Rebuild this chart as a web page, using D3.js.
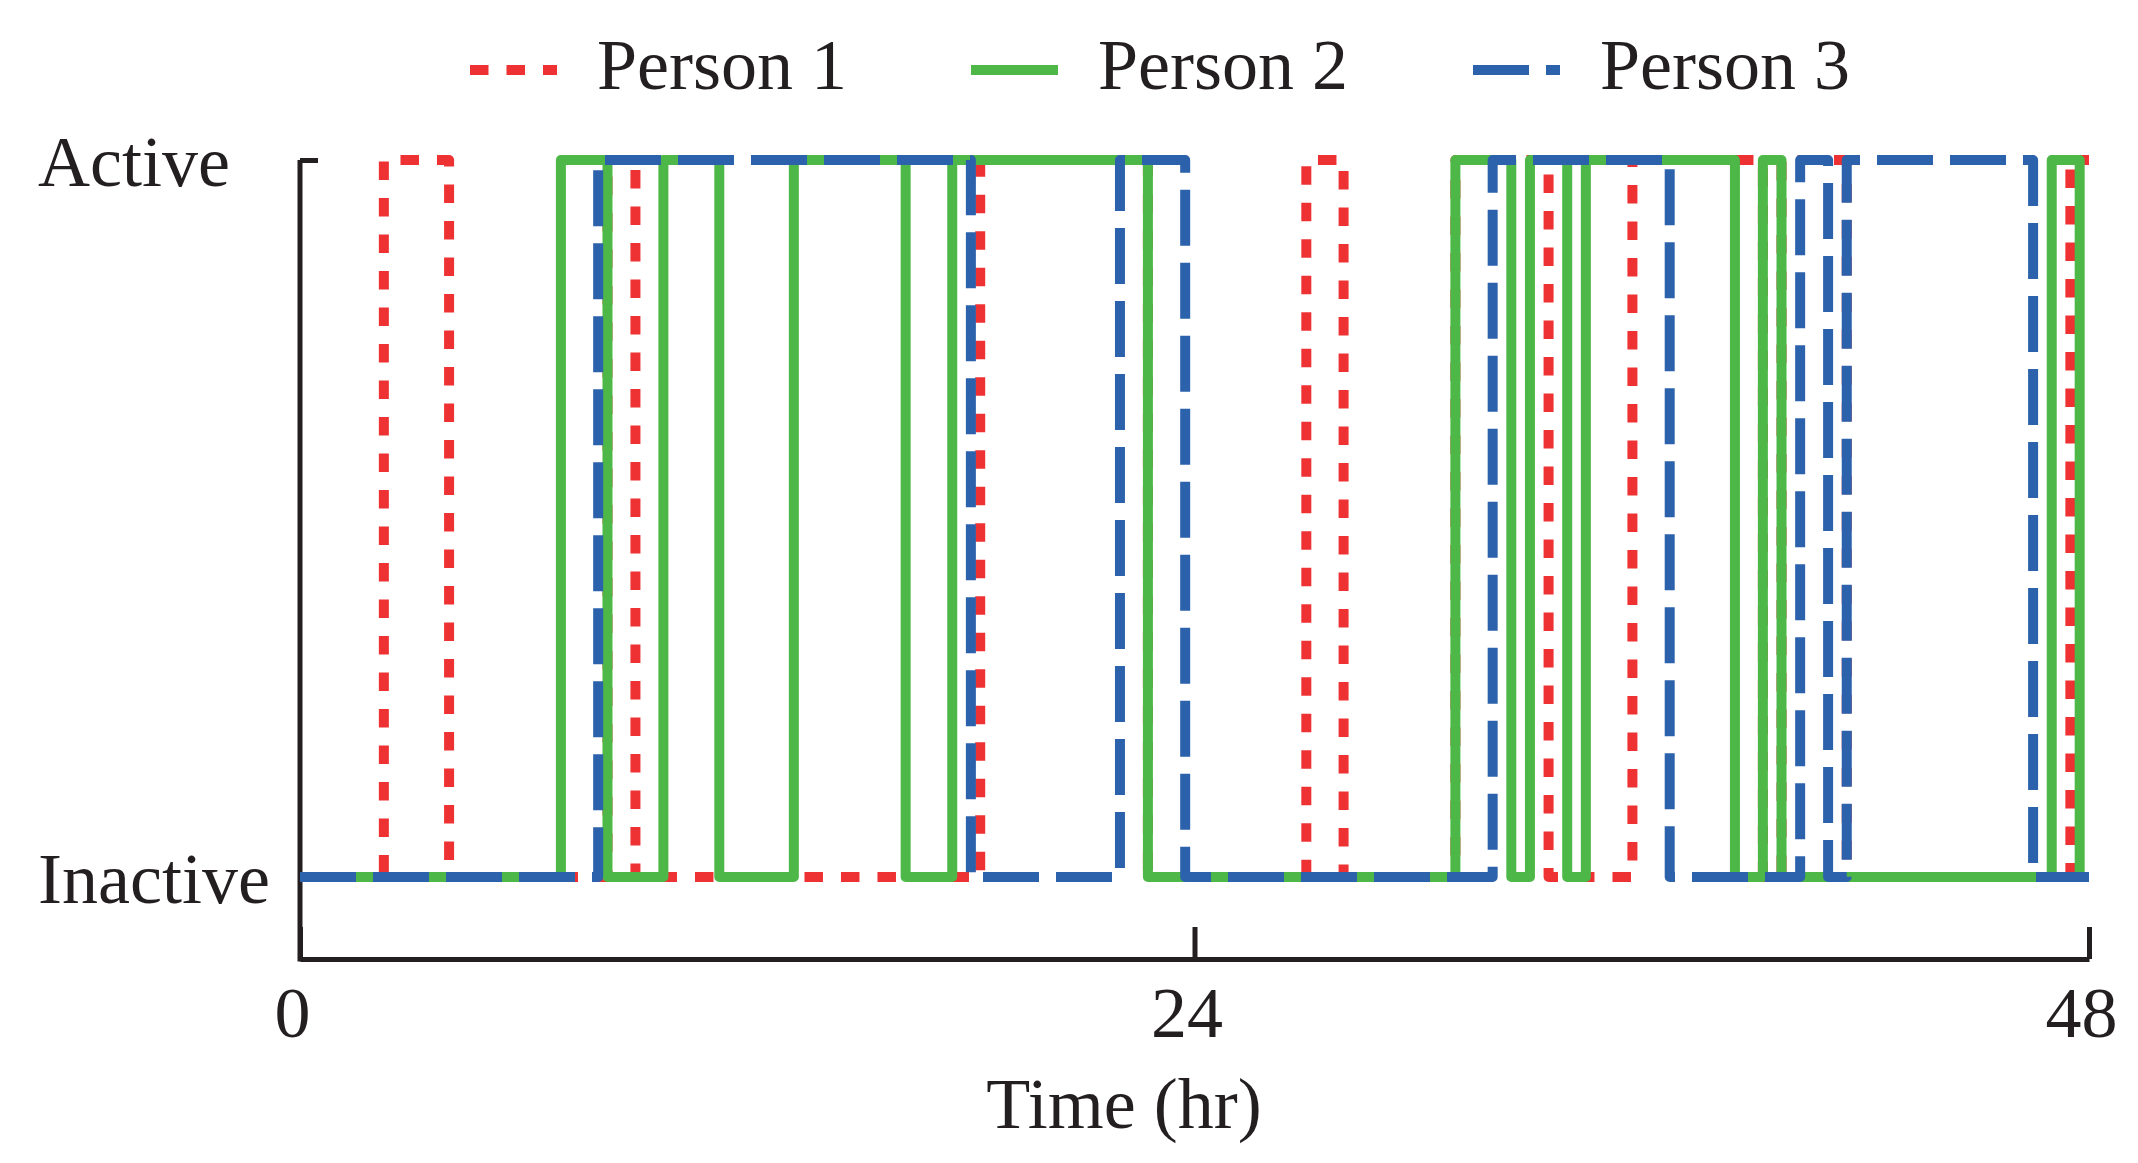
<!DOCTYPE html>
<html><head><meta charset="utf-8">
<script src="https://cdn.jsdelivr.net/npm/d3@7"></script>
<style>
body{margin:0;background:#fff}
svg{display:block}
text{font-family:"Liberation Serif","Times New Roman",serif;fill:#231F20}
</style>
</head><body>
<svg id="chart" width="2138" height="1163"></svg>
<script>
// ---- data ----
const seriesNames = ["Person 1", "Person 2", "Person 3"];
const seriesColors = ["#EE3233", "#4DB848", "#2C62AC"];
const seriesDash = ["18.5,18", null, "56,17"];
const seriesDashOffset = [22.02, 0, 0];

const person1Times  = [0, 2.25, 4, 8.25, 9, 18.25, 22.75, 27, 28, 31, 33.5, 35.75, 39.25, 39.75, 41.5, 47.5, 48];
const person1States = [0, 1,    0, 1,    0, 1,     0,     1,  0,  1,  0,    1,     0,     1,     0,    1,    1];

const person2Times  = [0, 7, 8.25, 9.75, 11.25, 13.25, 16.25, 17.5, 22.75, 31, 32.5, 33, 34, 34.5, 38.5, 39.25, 39.75, 47, 47.75, 48];
const person2States = [0, 1, 0,    1,    0,     1,     0,     1,    0,     1,  0,    1,  0,  1,    0,    1,     0,     1,  0,     0];

const person3Times  = [0, 8, 18, 22, 23.75, 32, 36.75, 40.25, 41, 41.5, 46.5, 48];
const person3States = [0, 1, 0,  1,  0,     1,  0,     1,     0,  1,    0,    0];

const stateLabels = ["Inactive", "Active"];
const xTickValues = [0, 24, 48];
const xLabel = "Time (hr)";

// ---- chart ----
const svg = d3.select("#chart");
const x = d3.scaleLinear().domain([0, 48]).range([300, 2089]);
const y = d3.scaleLinear().domain([0, 1]).range([877, 160]);
const axisY = 959;
const ink = "#231F20";
const serif = '"Liberation Serif","Times New Roman",serif';

// x axis
const gx = svg.append("g").attr("transform", `translate(0,${axisY})`)
  .call(d3.axisBottom(x).tickValues(xTickValues).tickSizeInner(-32).tickSizeOuter(0));
gx.select(".domain").attr("stroke", ink).attr("stroke-width", 5);
gx.selectAll(".tick line").attr("stroke", ink).attr("stroke-width", 5);
gx.selectAll(".tick text").attr("y", 78).attr("dy", 0).attr("dx", -8)
  .attr("font-size", 72).attr("fill", ink).style("font-family", serif);

// y axis
const gy = svg.append("g").attr("transform", `translate(300,0)`)
  .call(d3.axisLeft(y).tickValues([0, 1]).tickSizeInner(-18).tickSizeOuter(0)
        .tickFormat(d => stateLabels[d]));
gy.select(".domain").remove();
gy.selectAll(".tick line").attr("stroke", ink).attr("stroke-width", 5);
gy.selectAll(".tick text").attr("x", -262).attr("dy", 25).attr("text-anchor", "start")
  .attr("font-size", 72).attr("fill", ink).style("font-family", serif);
svg.append("line").attr("x1", 300).attr("x2", 300)
  .attr("y1", y(1)).attr("y2", axisY + 2.5)
  .attr("stroke", ink).attr("stroke-width", 5);

// axis title
svg.append("text").attr("x", 1124).attr("y", 1128).attr("text-anchor", "middle")
  .attr("font-size", 72).text(xLabel);

// lines
const series = [
  person1Times.map((t, i) => [t, person1States[i]]),
  person2Times.map((t, i) => [t, person2States[i]]),
  person3Times.map((t, i) => [t, person3States[i]])
];
const line = d3.line().x(d => x(d[0])).y(d => y(d[1])).curve(d3.curveStepAfter);
svg.append("g").selectAll("path").data(series).join("path")
  .attr("d", line)
  .attr("fill", "none")
  .attr("stroke", (d, i) => seriesColors[i])
  .attr("stroke-width", 10)
  .attr("stroke-linejoin", "round")
  .attr("stroke-linecap", "butt")
  .attr("stroke-dasharray", (d, i) => seriesDash[i])
  .attr("stroke-dashoffset", (d, i) => seriesDashOffset[i]);

// legend
const legendX = [470, 971, 1473];
const lg = svg.append("g");
seriesNames.forEach((name, i) => {
  lg.append("line").attr("x1", legendX[i]).attr("x2", legendX[i] + 87)
    .attr("y1", 70).attr("y2", 70)
    .attr("stroke", seriesColors[i]).attr("stroke-width", 10)
    .attr("stroke-dasharray", seriesDash[i]);
  lg.append("text").attr("x", legendX[i] + 127).attr("y", 89)
    .attr("font-size", 72).text(name);
});
</script>
</body></html>
